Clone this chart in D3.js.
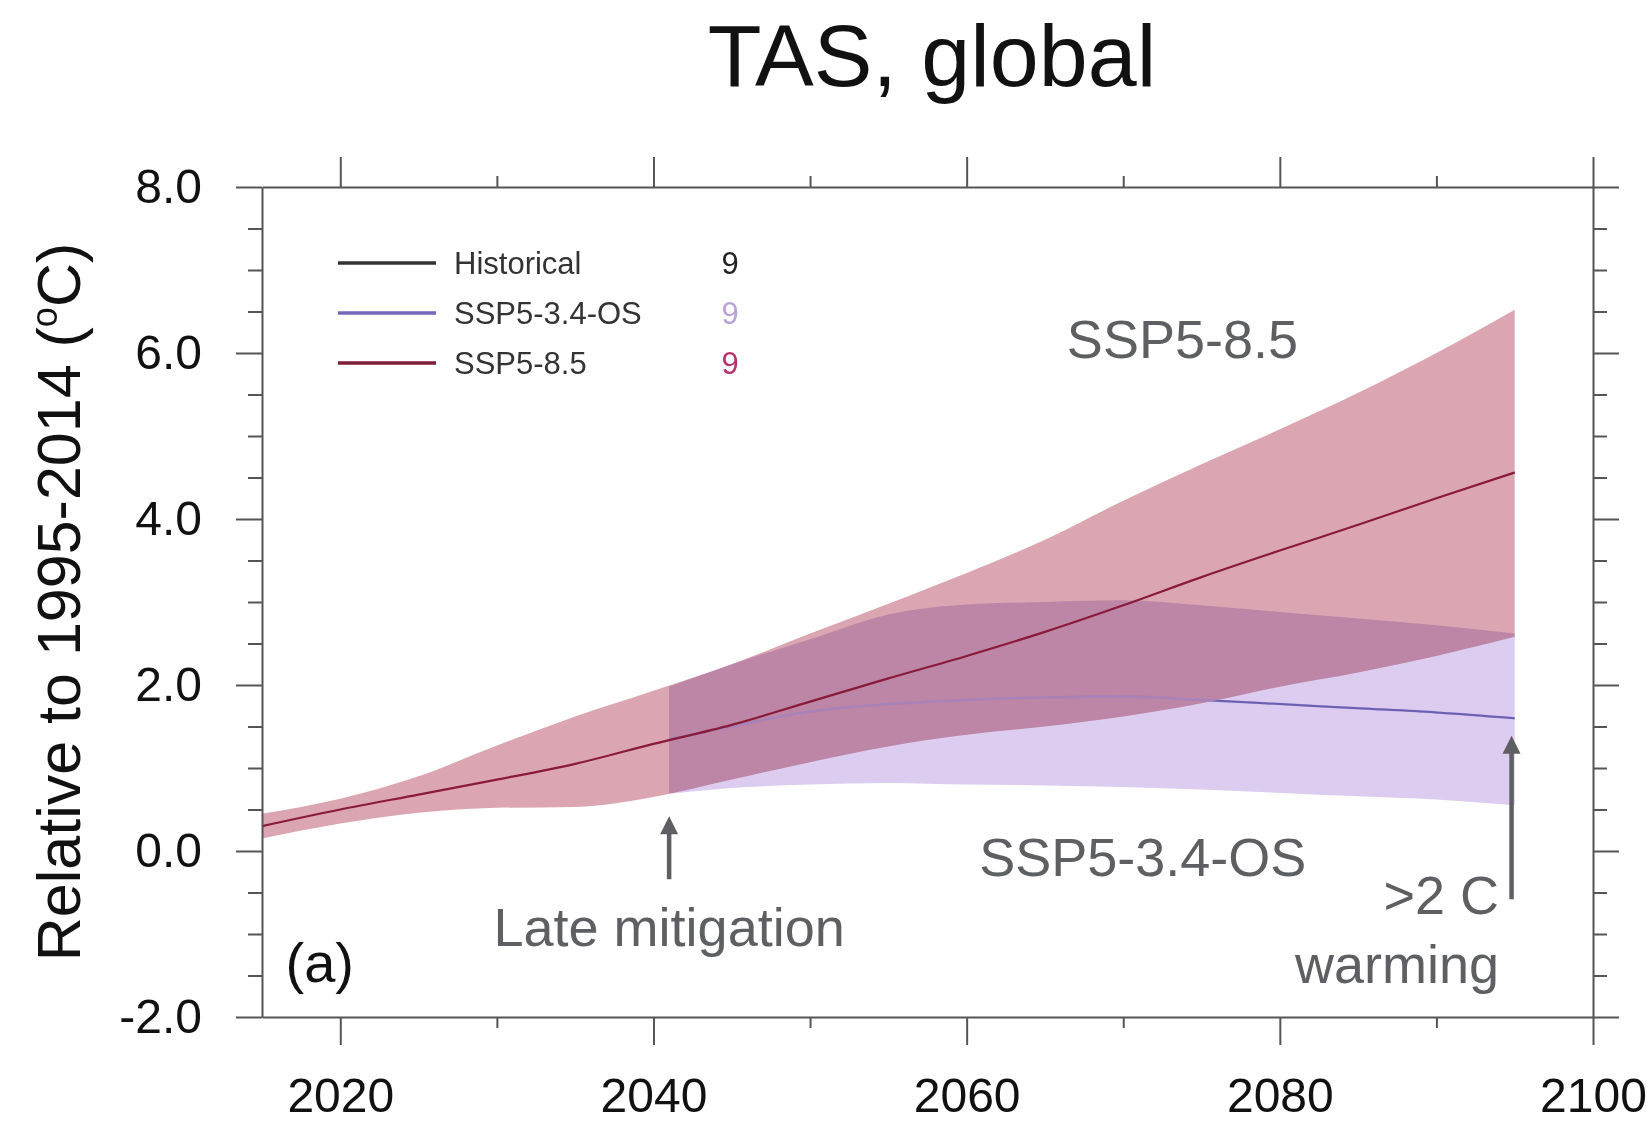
<!DOCTYPE html>
<html>
<head>
<meta charset="utf-8">
<script src="https://cdn.jsdelivr.net/npm/d3@7"></script>
<style>
  body { margin: 0; background: #fff; }
  svg { display: block; font-family: "Liberation Sans", Arial, Helvetica, sans-serif; }
</style>
</head>
<body>
<script>
// TAS, global mean -- anomalies relative to 1995-2014
var width = 1648, height = 1125;
var margin = {top: 187, left: 262, right: 55, bottom: 108};

// SSP5-8.5 : multi-model mean and range
var years = [2015, 2020, 2025, 2030, 2035, 2040, 2045, 2050, 2055, 2060, 2065, 2070, 2075, 2080, 2085, 2090, 2095];
var ssp585Mean = [0.30, 0.50, 0.68, 0.86, 1.05, 1.29, 1.52, 1.80, 2.08, 2.35, 2.64, 2.96, 3.30, 3.62, 3.93, 4.25, 4.56];
var ssp585High = [0.45, 0.63, 0.90, 1.27, 1.62, 1.93, 2.25, 2.62, 2.98, 3.35, 3.75, 4.22, 4.66, 5.08, 5.52, 6.00, 6.52];
var ssp585Low  = [0.15, 0.33, 0.46, 0.52, 0.53, 0.65, 0.86, 1.07, 1.26, 1.40, 1.50, 1.62, 1.78, 1.98, 2.15, 2.35, 2.58];

// SSP5-3.4-OS : branches off in 2040
var osYears = [2041, 2045, 2050, 2055, 2060, 2065, 2070, 2075, 2080, 2085, 2090, 2095];
var ssp534Mean = [1.35, 1.50, 1.68, 1.77, 1.82, 1.85, 1.86, 1.82, 1.77, 1.72, 1.67, 1.60];
var ssp534High = [1.98, 2.25, 2.55, 2.85, 2.97, 3.00, 3.02, 2.96, 2.88, 2.80, 2.72, 2.62];
var ssp534Low  = [0.69, 0.76, 0.80, 0.82, 0.80, 0.79, 0.77, 0.74, 0.70, 0.66, 0.62, 0.55];

var xTicks = [2020, 2040, 2060, 2080, 2100];
var xMinor = [2030, 2050, 2070, 2090];
var yTicks = [-2, 0, 2, 4, 6, 8];
var yMinor = d3.range(-1.5, 8, 0.5).filter(function(v) { return v % 2 !== 0; });

var legendNames  = ["Historical", "SSP5-3.4-OS", "SSP5-8.5"];
var legendCounts = ["9", "9", "9"];
var legendColors = ["#333333", "#7466b8", "#7e1f38"];
var countColors  = ["#222222", "#b9a2d8", "#b8306a"];

var svg = d3.select("body").append("svg")
  .attr("width", width)
  .attr("height", height);

var x = d3.scaleLinear().domain([2015, 2100]).range([margin.left, width - margin.right]);
var y = d3.scaleLinear().domain([-2, 8]).range([height - margin.bottom, margin.top]);

// title
svg.append("text")
  .attr("x", 932).attr("y", 86)
  .attr("text-anchor", "middle")
  .attr("font-size", 88)
  .attr("fill", "#111")
  .text("TAS, global");

// ranges
function toRows(xs, lo, hi, mid) {
  return xs.map(function(d, i) { return {year: d, lo: lo[i], hi: hi[i], mid: mid[i]}; });
}
var rows585 = toRows(years, ssp585Low, ssp585High, ssp585Mean);
var rows534 = toRows(osYears, ssp534Low, ssp534High, ssp534Mean);

var area = d3.area()
  .curve(d3.curveMonotoneX)
  .x(function(d) { return x(d.year); })
  .y0(function(d) { return y(d.lo); })
  .y1(function(d) { return y(d.hi); });

var line = d3.line()
  .curve(d3.curveMonotoneX)
  .x(function(d) { return x(d.year); })
  .y(function(d) { return y(d.mid); });

// the OS mean only shows faintly where it runs under the SSP5-8.5 range
svg.append("defs").append("clipPath").attr("id", "out585")
  .append("path")
  .attr("clip-rule", "evenodd")
  .attr("d", "M0,0H" + width + "V" + height + "H0Z" + area(rows585));

svg.append("path").datum(rows534)
  .attr("d", area)
  .attr("fill", "#dccdf0")
  .style("mix-blend-mode", "multiply");

svg.append("path").datum(rows585)
  .attr("d", area)
  .attr("fill", "#dba6b1")
  .style("mix-blend-mode", "multiply");

svg.append("path").datum(rows534)
  .attr("d", line)
  .attr("fill", "none")
  .attr("stroke", "#8f7fd0")
  .attr("stroke-opacity", 0.45)
  .attr("stroke-width", 2.5);

svg.append("path").datum(rows534)
  .attr("d", line)
  .attr("clip-path", "url(#out585)")
  .attr("fill", "none")
  .attr("stroke", "#6a5fb0")
  .attr("stroke-width", 2);

svg.append("path").datum(rows585)
  .attr("d", line)
  .attr("fill", "none")
  .attr("stroke", "#8a1b38")
  .attr("stroke-width", 2.2);

// axes (NCL style frame, ticks pointing outward)
function styleAxis(g) {
  g.selectAll("path, line").attr("stroke", "#555").attr("stroke-width", 2);
  g.selectAll("text").attr("fill", "#111").attr("font-size", 48)
    .attr("font-family", "'Liberation Sans', Arial, Helvetica, sans-serif");
}

var bottom = height - margin.bottom, right = width - margin.right;

svg.append("g").attr("transform", "translate(0," + bottom + ")")
  .call(d3.axisBottom(x).tickValues(xTicks).tickSize(28).tickSizeOuter(0).tickPadding(33).tickFormat(d3.format("d")))
  .call(styleAxis);
svg.append("g").attr("transform", "translate(0," + bottom + ")")
  .call(d3.axisBottom(x).tickValues(xMinor).tickSize(11).tickFormat(""))
  .call(styleAxis).select(".domain").remove();

svg.append("g").attr("transform", "translate(0," + margin.top + ")")
  .call(d3.axisTop(x).tickValues(xTicks).tickSize(30).tickSizeOuter(0).tickFormat(""))
  .call(styleAxis);
svg.append("g").attr("transform", "translate(0," + margin.top + ")")
  .call(d3.axisTop(x).tickValues(xMinor).tickSize(11).tickFormat(""))
  .call(styleAxis).select(".domain").remove();

svg.append("g").attr("transform", "translate(" + margin.left + ",0)")
  .call(d3.axisLeft(y).tickValues(yTicks).tickSize(26).tickSizeOuter(0).tickPadding(34)
    .tickFormat(function(v) { return v.toFixed(1); }))
  .call(styleAxis);
svg.append("g").attr("transform", "translate(" + margin.left + ",0)")
  .call(d3.axisLeft(y).tickValues(yMinor).tickSize(14).tickFormat(""))
  .call(styleAxis).select(".domain").remove();

svg.append("g").attr("transform", "translate(" + right + ",0)")
  .call(d3.axisRight(y).tickValues(yTicks).tickSize(26).tickSizeOuter(0).tickFormat(""))
  .call(styleAxis);
svg.append("g").attr("transform", "translate(" + right + ",0)")
  .call(d3.axisRight(y).tickValues(yMinor).tickSize(14).tickFormat(""))
  .call(styleAxis).select(".domain").remove();

// y axis title
var ylab = svg.append("text")
  .attr("transform", "translate(80," + (margin.top + bottom) / 2 + ") rotate(-90)")
  .attr("text-anchor", "middle")
  .attr("font-size", 61)
  .attr("fill", "#111");
ylab.append("tspan").text("Relative to 1995-2014 (");
ylab.append("tspan").attr("font-size", 36).attr("dy", -23).text("o");
ylab.append("tspan").attr("dy", 23).text("C)");

// legend
var legend = svg.append("g").attr("transform", "translate(338,263)");
legendNames.forEach(function(name, i) {
  var row = legend.append("g").attr("transform", "translate(0," + i * 50 + ")");
  row.append("line").attr("x1", 0).attr("x2", 98)
    .attr("stroke", legendColors[i]).attr("stroke-width", 3.5);
  row.append("text").attr("x", 116).attr("y", 11)
    .attr("font-size", 31).attr("fill", "#333").text(name);
  row.append("text").attr("x", 392).attr("y", 11).attr("text-anchor", "middle")
    .attr("font-size", 31).attr("fill", countColors[i]).text(legendCounts[i]);
});

// panel label
svg.append("text")
  .attr("x", x(2016.5)).attr("y", y(-1.58))
  .attr("font-size", 56).attr("fill", "#111")
  .text("(a)");

// annotations
var note = "#5d5f63";
function addText(t, yr, v, anchor) {
  svg.append("text")
    .attr("x", x(yr)).attr("y", y(v))
    .attr("text-anchor", anchor)
    .attr("font-size", 54)
    .attr("fill", note)
    .text(t);
}
addText("SSP5-8.5", 2066.4, 5.94, "start");
addText("SSP5-3.4-OS", 2060.8, -0.30, "start");
addText("Late mitigation", 2041.0, -1.14, "middle");
addText(">2 C", 2094.0, -0.76, "end");
addText("warming", 2094.0, -1.59, "end");

function addArrow(yr, vFrom, vTo) {
  var ax = x(yr), y0 = y(vFrom), y1 = y(vTo);
  svg.append("line")
    .attr("x1", ax).attr("x2", ax)
    .attr("y1", y0).attr("y2", y1 + 14)
    .attr("stroke", note).attr("stroke-width", 4.5);
  svg.append("path")
    .attr("d", "M" + (ax - 9) + "," + (y1 + 18) + "L" + ax + "," + y1 + "L" + (ax + 9) + "," + (y1 + 18) + "Z")
    .attr("fill", note);
}
addArrow(2041.0, -0.34, 0.42);
addArrow(2094.8, -0.58, 1.39);
</script>
</body>
</html>
